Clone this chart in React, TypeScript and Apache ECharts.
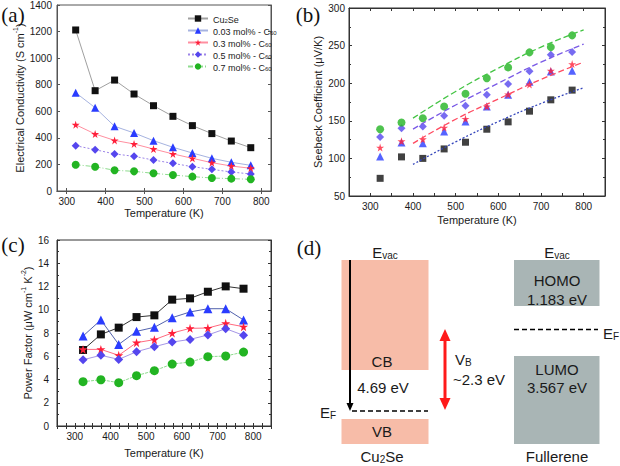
import React, { useEffect, useRef } from 'react';
import * as echarts from 'echarts';

// ---------- data ----------
const temps = [323, 373, 423, 473, 523, 573, 623, 673, 723, 773];
const seriesNames = ['Cu2Se', '0.03 mol% - C60', '0.3 mol% - C60', '0.5 mol% - C60', '0.7 mol% - C60'];

// (a) electrical conductivity, S/cm
const condCu2Se = [1212, 755, 835, 730, 642, 562, 492, 432, 376, 326];
const cond003 = [740, 627, 487, 437, 379, 329, 286, 246, 216, 193];
const cond03 = [499, 429, 381, 354, 316, 279, 246, 213, 188, 171];
const cond05 = [341, 311, 279, 261, 233, 208, 183, 163, 143, 128];
const cond07 = [198, 183, 156, 148, 133, 120, 108, 98, 93, 88];

// (b) Seebeck coefficient, uV/K
const seebCu2Se = [73.5, 102, 100, 112.6, 121.5, 138.8, 148.6, 162.8, 177.9, 190.8];
const seeb003 = [102.4, 121, 120, 135.7, 149, 169, 184.5, 202, 215.6, 216.5];
const seeb03 = [114.4, 122.8, 125.5, 141, 152.6, 169, 185, 198.3, 216.5, 225.4];
const seeb05 = [128.6, 140, 142.4, 156.6, 170, 184.5, 199, 216, 237.8, 241.4];
const seeb07 = [138.8, 147.7, 153.5, 169, 186, 206.7, 221, 241, 248, 263.6];

// (b) fitted curves
const fitTemps = [400, 500, 600, 700, 800];
const fitCu2Se = [92, 122, 149, 173, 194];
const fit03 = [120, 152, 179, 205, 228];
const fit05 = [139, 171, 200, 228, 252];
const fit07 = [153.5, 189, 220, 248, 271];

// (c) power factor, uW cm-1 K-2
const pfCu2Se = [6.54, 7.88, 8.46, 9.37, 9.52, 10.87, 10.98, 11.55, 12.01, 11.81];
const pf003 = [7.74, 9.12, 7.02, 8.14, 8.49, 9.32, 9.81, 10.09, 10.09, 9.12];
const pf03 = [6.59, 6.59, 6.08, 7.17, 7.43, 8.0, 8.4, 8.43, 8.83, 8.54];
const pf05 = [5.7, 6.08, 5.73, 6.39, 6.82, 7.22, 7.45, 7.83, 8.37, 7.8];
const pf07 = [3.81, 3.98, 3.73, 4.33, 4.76, 5.33, 5.5, 5.96, 6.02, 6.36];

const tempLabels = [300, 400, 500, 600, 700, 800];

// ---------- styles ----------
const FONT = 'Liberation Sans, Arial, sans-serif';
const SERIF = 'Liberation Serif, Times New Roman, serif';
const TXT = '#1a1a1a';
const FRAME = '#333';

const markColors = ['#111111', '#2a3cff', '#ff1f3a', '#5546ee', '#22b422'];
const STAR = 'path://M50,0 L61,35 L98,35 L68,57 L79,91 L50,70 L21,91 L32,57 L2,35 L39,35 Z';
const symbols = ['rect', 'triangle', STAR, 'diamond', 'circle'];
const aLineColors = ['#a0a0a0', '#a6b3e0', '#ff8fa0', '#9c84e8', '#8fdc8f'];
const aLineTypes: any[] = ['solid', 'solid', 'solid', [2, 2], [5, 2, 1, 2]];
const cLineColors = ['#333333', '#5262ad', '#ff6a7f', '#a596e6', '#8fdc8f'];
const cLineTypes: any[] = ['solid', 'solid', 'solid', 'solid', [3, 1]];
const fitColors = ['#3344bb', '#ff4a60', '#7a5ae6', '#44c444'];
const fitTypes: any[] = [[2, 2], [6, 3], [6, 3], [6, 3]];

const richSub = {
  n: { fontSize: 11, fontFamily: FONT, color: TXT, lineHeight: 14, verticalAlign: 'bottom' },
  sup: { fontSize: 7, fontFamily: FONT, color: TXT, lineHeight: 7, verticalAlign: 'top' },
};

function pairs(xs: number[], ys: number[]) {
  return xs.map((x, i) => [x, ys[i]]);
}

function makeAxes(
  grid: number,
  xr: [number, number],
  yr: [number, number],
  yInt: number,
  opt: {
    xInterval?: number;
    xTicks?: number[];
    yMinor?: number;
    xName: string;
    yName: string;
    xNameGap: number;
    yNameGap: number;
    yLabelMargin: number;
    frame: string;
  }
) {
  const line = { show: true, lineStyle: { color: opt.frame, width: 1 } };
  const xTick: any = { show: true, inside: true, length: 3, lineStyle: { color: opt.frame } };
  if (opt.xTicks) xTick.customValues = opt.xTicks;
  const xBase: any = {
    type: 'value', gridIndex: grid, min: xr[0], max: xr[1],
    splitLine: { show: false }, axisLine: line, axisTick: xTick,
  };
  if (opt.xInterval) xBase.interval = opt.xInterval;
  const yBase: any = {
    type: 'value', gridIndex: grid, min: yr[0], max: yr[1], interval: yInt,
    splitLine: { show: false }, axisLine: line,
    axisTick: { show: true, inside: true, length: 3, lineStyle: { color: opt.frame } },
    minorTick: opt.yMinor ? { show: true, splitNumber: opt.yMinor, length: 2, lineStyle: { color: opt.frame } } : { show: false },
  };
  const xAxes = [
    {
      ...xBase, position: 'bottom',
      axisLabel: { customValues: tempLabels, fontSize: 10, color: TXT, fontFamily: FONT, margin: 5, formatter: (v: number) => String(v) },
      name: opt.xName, nameLocation: 'middle', nameGap: opt.xNameGap,
      nameTextStyle: { fontSize: 11, color: TXT, fontFamily: FONT },
    },
    { ...xBase, position: 'top', axisLabel: { show: false } },
  ];
  const yAxes = [
    {
      ...yBase, position: 'left',
      axisLabel: { fontSize: 10, color: TXT, fontFamily: FONT, margin: opt.yLabelMargin, formatter: (v: number) => String(v) },
      name: opt.yName, nameLocation: 'middle', nameGap: opt.yNameGap,
      nameTextStyle: { fontSize: 11, color: TXT, fontFamily: FONT, rich: richSub },
    },
    { ...yBase, position: 'right', axisLabel: { show: false } },
  ];
  return { xAxes, yAxes };
}

const legendRich = {
  n: { fontSize: 9, fontFamily: FONT, color: TXT, lineHeight: 11, verticalAlign: 'bottom' },
  sub: { fontSize: 6, fontFamily: FONT, color: TXT, lineHeight: 5, verticalAlign: 'bottom' },
};

function legendFormat(name: string) {
  if (name === 'Cu2Se') return '{n|Cu}{sub|2}{n|Se}';
  return '{n|' + name.replace(' C60', ' C') + '}{sub|60}';
}

function App() {
  const ref = useRef<HTMLDivElement>(null);
  useEffect(() => {
    if (!ref.current) return;
    const chart = echarts.init(ref.current, undefined, { renderer: 'svg' });

    const A = makeAxes(0, [275, 825], [0, 1400], 200, {
      xTicks: tempLabels, xName: 'Temperature (K)', yName: '{n|Electrical Conductivity (S cm}{sup|-1}{n|)}',
      xNameGap: 16, yNameGap: 29, yLabelMargin: 5, frame: '#555',
    });
    const B = makeAxes(1, [250, 850], [50, 300], 50, {
      xInterval: 50, yMinor: 2, xName: 'Temperature (K)', yName: '{n|Seebeck Coefficient (μV/K)}',
      xNameGap: 18, yNameGap: 26, yLabelMargin: 4, frame: FRAME,
    });
    const C = makeAxes(2, [250, 850], [0, 16], 2, {
      xInterval: 25, yMinor: 2, xName: 'Temperature (K)',
      yName: '{n|Power Factor (μW cm}{sup|-1}{n| K}{sup|-2}{n|)}',
      xNameGap: 21, yNameGap: 20, yLabelMargin: 8, frame: FRAME,
    });

    const condData = [condCu2Se, cond003, cond03, cond05, cond07];
    const seebData = [seebCu2Se, seeb003, seeb03, seeb05, seeb07];
    const fitData = [fitCu2Se, fit03, fit05, fit07];
    const pfData = [pfCu2Se, pf003, pf03, pf05, pf07];

    const series: any[] = [];
    condData.forEach((d, i) => {
      series.push({
        name: seriesNames[i], type: 'line', xAxisIndex: 0, yAxisIndex: 0,
        data: pairs(temps, d), symbol: symbols[i], symbolSize: i === 0 ? 7 : 8,
        itemStyle: { color: markColors[i] },
        lineStyle: { color: aLineColors[i], width: 1, type: aLineTypes[i] },
      });
    });
    fitData.forEach((d, i) => {
      series.push({
        name: 'fit' + i, type: 'line', xAxisIndex: 2, yAxisIndex: 2,
        data: pairs(fitTemps, d), smooth: true, symbol: 'none',
        lineStyle: { color: fitColors[i], width: 1.3, type: fitTypes[i] },
      });
    });
    seebData.forEach((d, i) => {
      series.push({
        name: 'b' + i, type: 'scatter', xAxisIndex: 2, yAxisIndex: 2,
        data: pairs(temps, d), symbol: symbols[i], symbolSize: i === 0 ? 7 : 8,
        itemStyle: { color: markColors[i] },
      });
    });
    pfData.forEach((d, i) => {
      series.push({
        name: 'c' + i, type: 'line', xAxisIndex: 4, yAxisIndex: 4,
        data: pairs(temps, d), symbol: symbols[i], symbolSize: i === 0 ? 8 : 9,
        itemStyle: { color: markColors[i] },
        lineStyle: { color: cLineColors[i], width: 1, type: cLineTypes[i] },
      });
    });

    const t = (x: number, y: number, text: string, size = 15, align = 'center', rich?: any): any => ({
      type: 'text', x, y,
      style: {
        text, fill: TXT, fontSize: size, fontFamily: FONT,
        textAlign: align, textVerticalAlign: 'middle', rich,
      },
    });
    const subRich = {
      m: { fontSize: 15, fontFamily: FONT, fill: TXT, color: TXT, lineHeight: 16, verticalAlign: 'bottom' },
      s: { fontSize: 10, fontFamily: FONT, fill: TXT, color: TXT, lineHeight: 2, verticalAlign: 'bottom' },
    };
    const pink = '#f7bca8';
    const gray = '#a9b5b5';

    const graphics: any[] = [
      // panel labels
      { type: 'text', x: 13, y: 15, style: { text: '(a)', fontSize: 21, fontFamily: SERIF, fill: '#111', textAlign: 'center', textVerticalAlign: 'middle' } },
      { type: 'text', x: 308, y: 15, style: { text: '(b)', fontSize: 21, fontFamily: SERIF, fill: '#111', textAlign: 'center', textVerticalAlign: 'middle' } },
      { type: 'text', x: 13, y: 245, style: { text: '(c)', fontSize: 21, fontFamily: SERIF, fill: '#111', textAlign: 'center', textVerticalAlign: 'middle' } },
      { type: 'text', x: 309, y: 248, style: { text: '(d)', fontSize: 21, fontFamily: SERIF, fill: '#111', textAlign: 'center', textVerticalAlign: 'middle' } },
      // (d) bands
      { type: 'rect', shape: { x: 341.5, y: 260, width: 87, height: 110 }, style: { fill: pink } },
      { type: 'rect', shape: { x: 341.5, y: 419, width: 87, height: 25 }, style: { fill: pink } },
      { type: 'rect', shape: { x: 514, y: 260, width: 85.5, height: 46 }, style: { fill: gray } },
      { type: 'rect', shape: { x: 514, y: 356, width: 85.5, height: 88 }, style: { fill: gray } },
      // black arrow
      { type: 'line', shape: { x1: 350, y1: 260, x2: 350, y2: 405 }, style: { stroke: '#000', lineWidth: 2 } },
      { type: 'polygon', shape: { points: [[346.5, 403], [353.5, 403], [350, 411]] }, style: { fill: '#000' } },
      // EF dashed lines
      { type: 'line', shape: { x1: 352, y1: 411, x2: 428, y2: 411 }, style: { stroke: '#000', lineWidth: 1.5, lineDash: [5, 3] } },
      { type: 'line', shape: { x1: 514, y1: 329.5, x2: 598, y2: 329.5 }, style: { stroke: '#000', lineWidth: 1.5, lineDash: [5, 3] } },
      // red double arrow
      { type: 'line', shape: { x1: 445, y1: 338, x2: 445, y2: 401 }, style: { stroke: '#ff1a1a', lineWidth: 3 } },
      { type: 'polygon', shape: { points: [[445, 329], [439.5, 341], [450.5, 341]] }, style: { fill: '#ff1a1a' } },
      { type: 'polygon', shape: { points: [[445, 410], [439.5, 398], [450.5, 398]] }, style: { fill: '#ff1a1a' } },
      // texts
      t(385, 252, '{m|E}{s|vac}', 15, 'center', subRich),
      t(557, 252, '{m|E}{s|vac}', 15, 'center', subRich),
      t(382, 361, 'CB'),
      t(383, 387, '4.69 eV'),
      t(382, 431, 'VB'),
      t(382, 456, '{m|Cu}{s|2}{m|Se}', 15, 'center', subRich),
      t(320, 412, '{m|E}{s|F}', 15, 'left', subRich),
      t(603, 333, '{m|E}{s|F}', 15, 'left', subRich),
      t(455, 359, '{m|V}{s|B}', 15, 'left', subRich),
      t(453, 379, '~2.3 eV', 15, 'left'),
      t(557, 280, 'HOMO'),
      t(557, 299, '1.183 eV'),
      t(557, 369, 'LUMO'),
      t(557, 387, '3.567 eV'),
      t(557, 456, 'Fullerene'),
    ];

    chart.setOption({
      animation: false,
      backgroundColor: '#fff',
      grid: [
        { left: 57, right: 349, top: 5, bottom: 275, show: true, borderColor: '#555', borderWidth: 1, backgroundColor: 'transparent' },
        { left: 349, right: 15, top: 8, bottom: 270, show: true, borderColor: FRAME, borderWidth: 1, backgroundColor: 'transparent' },
        { left: 57, right: 349, top: 240, bottom: 40, show: true, borderColor: FRAME, borderWidth: 1, backgroundColor: 'transparent' },
      ],
      xAxis: [...A.xAxes, ...B.xAxes, ...C.xAxes],
      yAxis: [...A.yAxes, ...B.yAxes, ...C.yAxes],
      legend: {
        data: seriesNames, orient: 'vertical', left: 182, top: 10,
        itemWidth: 20, itemHeight: 8, itemGap: 3,
        formatter: legendFormat,
        textStyle: { fontSize: 9, fontFamily: FONT, color: TXT, rich: legendRich },
        selectedMode: false,
      },
      series,
      graphic: graphics,
    });
    return () => chart.dispose();
  }, []);
  return (
    <div style={{ position: 'absolute', left: 0, top: 0, width: 620, height: 466, background: '#fff' }}>
      <div ref={ref} style={{ width: 620, height: 466 }} />
    </div>
  );
}

export default App;
